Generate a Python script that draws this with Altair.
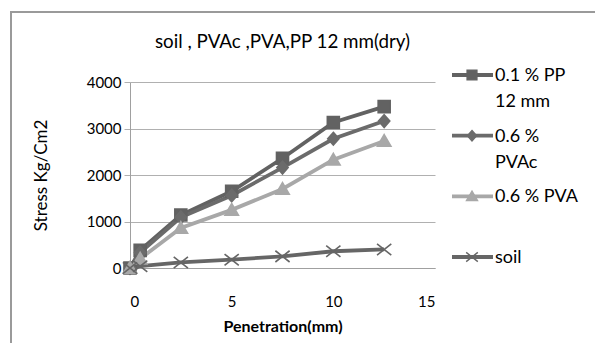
import altair as alt
import pandas as pd

# ---- data ----
penetration = [0, 0.5, 2.5, 5, 7.5, 10, 12.5]
series_names = ["0.1 % PP 12 mm", "0.6 % PVAc", "0.6 % PVA", "soil"]
pp_stress = [0, 380, 1140, 1650, 2360, 3130, 3470]
pvac_stress = [0, 330, 1090, 1560, 2160, 2780, 3160]
pva_stress = [0, 200, 860, 1250, 1700, 2330, 2730]
soil_stress = [0, 40, 120, 180, 250, 360, 400]
legend_lines = [["0.1 % PP", "12 mm"], ["0.6 %", "PVAc"], ["0.6 % PVA"], ["soil"]]
x_ticks = [0, 5, 10, 15]
y_ticks = [0, 1000, 2000, 3000, 4000]

# ---- styles ----
colors = ["#626262", "#6b6b6b", "#a8a8a8", "#666666"]
marker_paths = [
    "M-0.8,-0.8H0.8V0.8H-0.8Z",
    "M0,-0.85L0.75,0L0,0.85L-0.75,0Z",
    "M0,-0.85L0.9,0.7H-0.9Z",
    "M-0.95,-0.75L0.95,0.75M-0.95,0.75L0.95,-0.75",
]
FONT = "Lato"

rows = []
for name, vals in zip(series_names, [pp_stress, pvac_stress, pva_stress, soil_stress]):
    for xv, yv in zip(penetration, vals):
        rows.append({"series": name, "x": xv, "y": yv})
df = pd.DataFrame(rows)

legend_df = pd.DataFrame({
    "series": series_names,
    "label": ["\n".join(l) for l in legend_lines],
})

color_scale = alt.Scale(domain=series_names, range=colors)
shape_scale = alt.Scale(domain=series_names, range=marker_paths)

x_enc = alt.X(
    "x:Q",
    scale=alt.Scale(domain=[0, 15], nice=False, zero=False),
    axis=alt.Axis(
        values=x_ticks, title="Penetration(mm)", grid=False, ticks=False,
        domainColor="#a0a0a0", domainWidth=1, labelPadding=26,
        titleFontWeight="bold", titleFontSize=16, titleY=50, format="d",
    ),
)
y_enc = alt.Y(
    "y:Q",
    scale=alt.Scale(domain=[0, 4000], nice=False),
    axis=alt.Axis(
        values=y_ticks, title="Stress Kg/Cm2", grid=True, gridColor="#b0b0b0",
        domainColor="#a0a0a0", tickColor="#b0b0b0", tickSize=6, labelPadding=3,
        titleFontWeight="normal", titleFontSize=17, titleX=-80, format="d",
    ),
)

base = alt.Chart(df)

# outer chart-area frame (decoration)
frame = alt.Chart(pd.DataFrame({"f": [0]})).mark_rect(
    filled=False, stroke="#9a9a9a", strokeWidth=2
).encode(
    x=alt.value(-119), x2=alt.value(620), y=alt.value(-70), y2=alt.value(420)
)

lines = base.mark_line(strokeWidth=3.8).encode(
    x=x_enc, y=y_enc,
    color=alt.Color("series:N", scale=color_scale, legend=None),
)

points = base.mark_point(filled=True, size=225, strokeWidth=1.6, opacity=1).encode(
    x=x_enc, y=y_enc,
    fill=alt.Fill("series:N", scale=color_scale, legend=None),
    stroke=alt.Stroke("series:N", scale=color_scale, legend=None),
    shape=alt.Shape("series:N", scale=shape_scale, legend=None),
)

plot = alt.layer(frame, lines, points)

# ---- legend built from the legend table ----
legend_y = alt.Y(
    "series:N",
    scale=alt.Scale(type="point", domain=series_names, range=[-7, 175], padding=0),
    axis=None,
)
leg_base = alt.Chart(legend_df)
leg_rules = leg_base.mark_rule(strokeWidth=3.8).encode(
    y=legend_y, x=alt.value(322), x2=alt.value(363),
    color=alt.Color("series:N", scale=color_scale, legend=None),
)
leg_marks = leg_base.mark_point(filled=True, size=150, strokeWidth=1.4, opacity=1).encode(
    y=legend_y, x=alt.value(342),
    fill=alt.Fill("series:N", scale=color_scale, legend=None),
    stroke=alt.Stroke("series:N", scale=color_scale, legend=None),
    shape=alt.Shape("series:N", scale=shape_scale, legend=None),
)
leg_text = leg_base.mark_text(
    align="left", baseline="alphabetic", dy=6, fontSize=18, font=FONT,
    lineBreak="\n", lineHeight=26, color="#000000",
).encode(y=legend_y, x=alt.value(365), text="label:N")

legend_part = alt.layer(leg_rules, leg_marks, leg_text)

chart = alt.layer(plot, legend_part).resolve_scale(y="independent").properties(
    width=305,
    height=186,
    autosize=alt.AutoSizeParams(type="none"),
    padding={"left": 130, "top": 82, "right": 160, "bottom": 75},
    title=alt.TitleParams(
        "soil , PVAc ,PVA,PP 12 mm(dry)", font=FONT, fontSize=18.8,
        fontWeight="normal", color="#000000", offset=-41, frame="group",
    ),
).configure_view(stroke=None).configure_axis(
    labelFont=FONT, labelFontSize=15, labelColor="#000000",
    titleFont=FONT, titleFontSize=15, titleColor="#000000",
)

chart.save("out.html", embed_options={"renderer": "svg", "actions": False})
